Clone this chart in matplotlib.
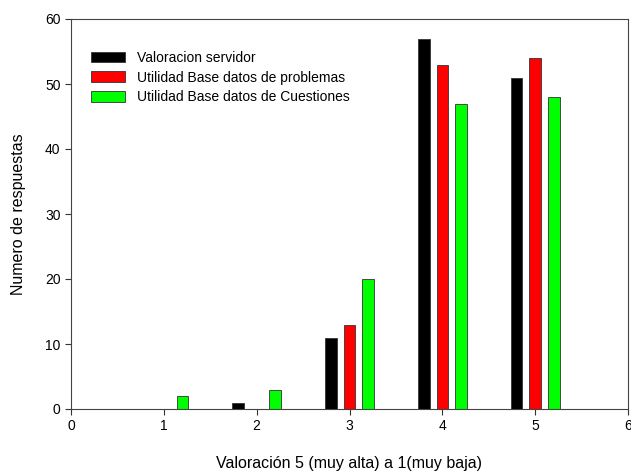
import matplotlib
matplotlib.use("Agg")
import matplotlib.pyplot as plt
import numpy as np

plt.rcParams['font.family'] = ['Liberation Sans', 'DejaVu Sans']

valoraciones = [1, 2, 3, 4, 5]
servidor = [0, 1, 11, 57, 51]
problemas = [0, 0, 13, 53, 54]
cuestiones = [2, 3, 20, 47, 48]

series = [
    ("Valoracion servidor", servidor, "black", -0.2),
    ("Utilidad Base datos de problemas", problemas, "red", 0.0),
    ("Utilidad Base datos de Cuestiones", cuestiones, "#00ff00", 0.2),
]

fig = plt.figure(figsize=(6.31, 4.75), dpi=100)
ax = fig.add_axes([71 / 631, 1 - 409 / 475, 557 / 631, 390 / 475])

x = np.array(valoraciones, dtype=float)
for nombre, valores, color, desp in series:
    ax.bar(x + desp, valores, width=0.125, color=color, edgecolor="#333333",
           linewidth=0.6, label=nombre)

ax.set_xlim(0, 6)
ax.set_ylim(0, 60)
ax.set_xticks(range(0, 7))
ax.set_yticks(range(0, 61, 10))
ax.tick_params(direction="out", length=4, labelsize=10, color="#333333")
for s in ax.spines.values():
    s.set_color("#444444")
ax.set_xlabel("Valoración 5 (muy alta) a 1(muy baja)", fontsize=11.5, labelpad=16)
ax.set_ylabel("Numero de respuestas", fontsize=11.5, labelpad=14)

ax.legend(loc="upper left", bbox_to_anchor=(0.013, 0.95), frameon=False,
          fontsize=10, handlelength=2.5, handleheight=0.8, labelspacing=0.4,
          handletextpad=0.85)

fig.savefig("out.png", dpi=100)
